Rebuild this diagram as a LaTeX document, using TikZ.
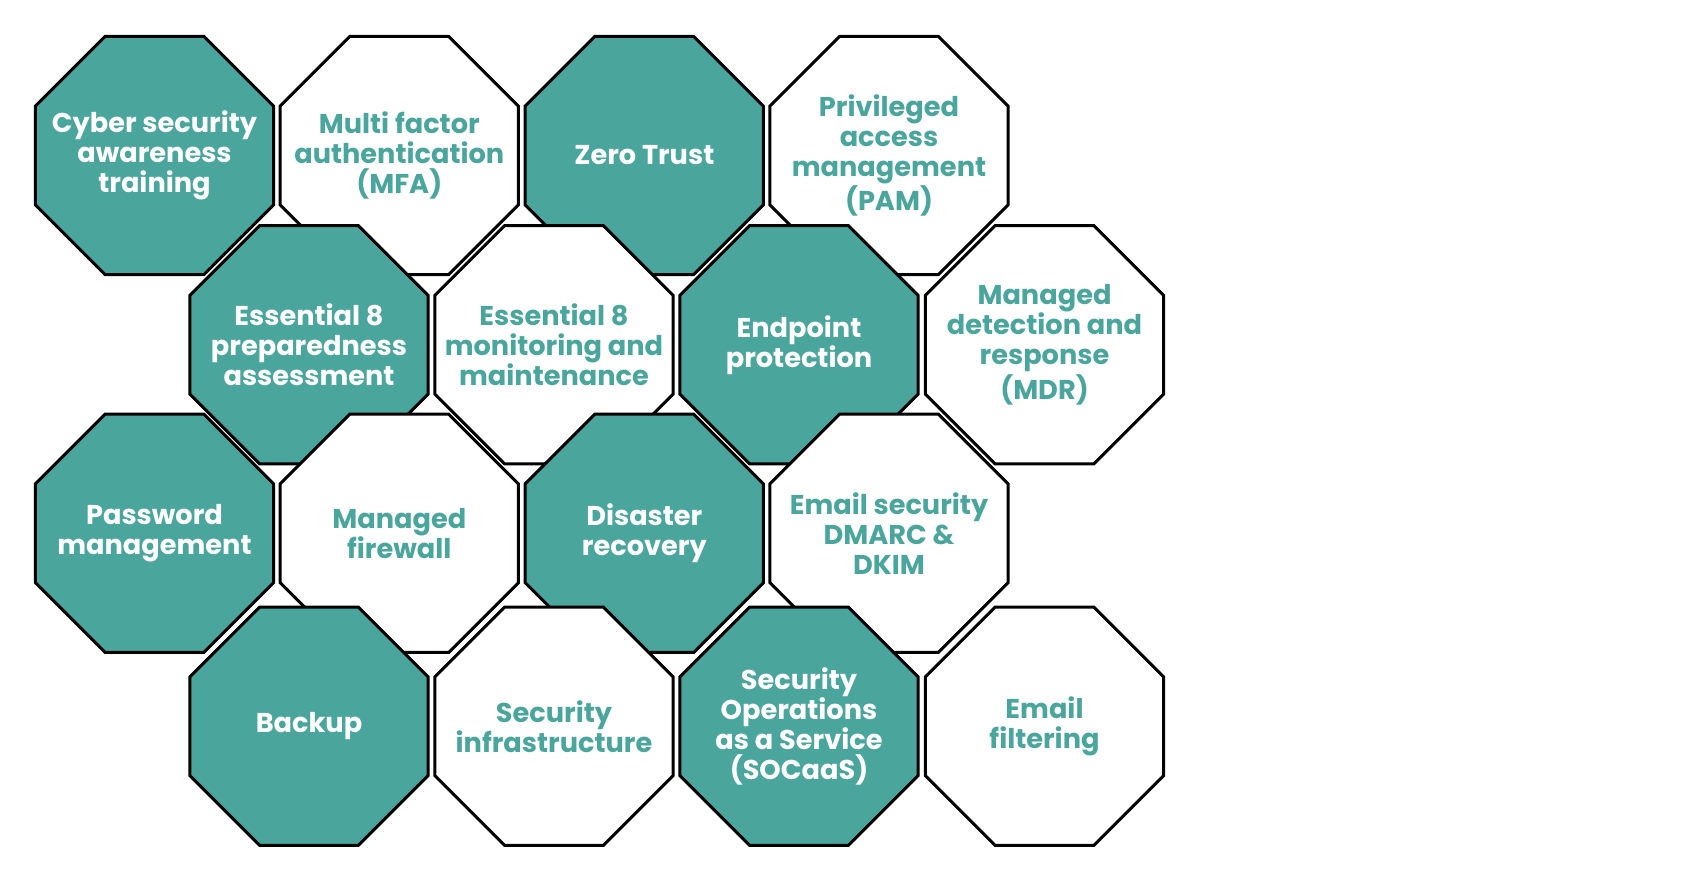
\documentclass[tikz,border=0pt]{standalone}
\usepackage{fontspec}
\setmainfont{Poppins}
\usetikzlibrary{shapes.geometric}
\definecolor{octteal}{HTML}{4AA69C}

\begin{document}
\begin{tikzpicture}[x=0.5pt, y=-0.5pt,
	oct/.style={regular polygon, regular polygon sides=8, minimum size=129pt, inner sep=0pt, draw=black, line width=1.5pt},
	octtext/.style={align=center, inner sep=0pt, font=\fontsize{13.6}{15}\selectfont\bfseries},
	tealoct/.style={oct, fill=octteal, label={[octtext, text=white]center:#1}},
	whiteoct/.style={oct, fill=white, label={[octtext, text=octteal]center:#1}}]
	\useasboundingbox (0,0) rectangle (1702,887);

	\node[tealoct={Cyber security\\awareness\\training}] (awr) at (154.5, 155.5) {};
	\node[whiteoct={Multi factor\\authentication\\(MFA)}] (mfa) at (399.3, 155.5) {};
	\node[tealoct={Zero Trust}] (zt) at (644.3, 155.5) {};
	\node[whiteoct={Privileged\\access\\management\\(PAM)}] (pam) at (889, 155.5) {};

	\node[tealoct={Essential 8\\preparedness\\assessment}] (e8p) at (309, 344.8) {};
	\node[whiteoct={Essential 8\\monitoring and\\maintenance}] (e8m) at (554, 344.8) {};
	\node[tealoct={Endpoint\\protection}] (ep) at (799, 344.8) {};
	\node[whiteoct={Managed\\detection and\\response\\(MDR)}] (mdr) at (1044.5, 344.8) {};

	\node[tealoct={Password\\management}] (pw) at (154.5, 533.3) {};
	\node[whiteoct={Managed\\firewall}] (fw) at (399.3, 533.3) {};
	\node[tealoct={Disaster\\recovery}] (dr) at (644.3, 533.3) {};
	\node[whiteoct={Email security\\DMARC \&\\DKIM}] (esec) at (889, 533.3) {};

	\node[tealoct={Backup}] (bak) at (309, 726.3) {};
	\node[whiteoct={Security\\infrastructure}] (sinf) at (554, 726.3) {};
	\node[tealoct={Security\\Operations\\as a Service\\(SOCaaS)}] (soc) at (799, 726.3) {};
	\node[whiteoct={Email\\filtering}] (ef) at (1044.5, 726.3) {};
\end{tikzpicture}
\end{document}
